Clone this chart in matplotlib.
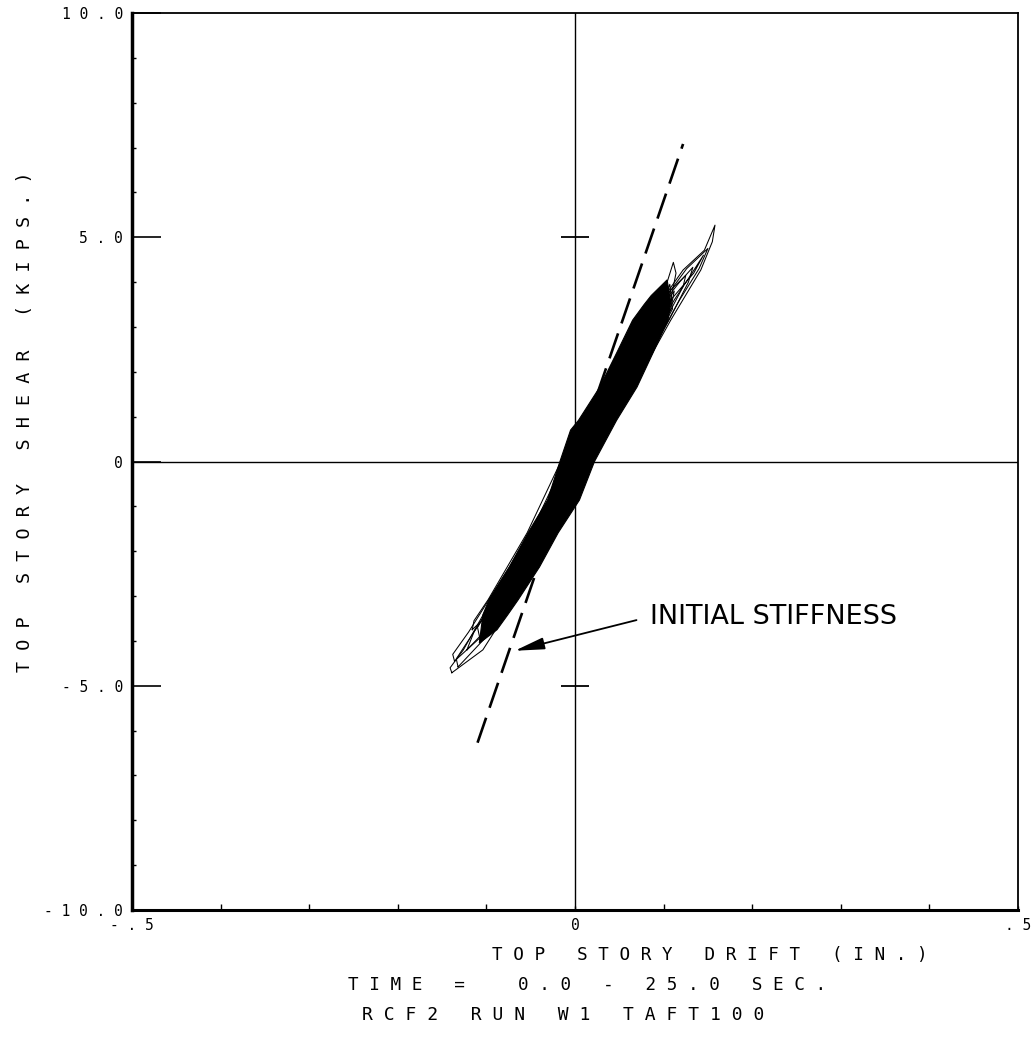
import numpy as np
import matplotlib
matplotlib.use("agg")
import matplotlib.pyplot as plt
from matplotlib.ticker import MultipleLocator

plt.rcParams['font.family'] = ['DejaVu Sans Mono', 'DejaVu Sans']

# 初始勁度線 (drift in., shear kips)
stiff_drift = [-0.110, 0.122]
stiff_shear = [-6.27, 7.08]

# 遲滯迴圈密集區 (外形)
core_drift = [-0.108, -0.104, -0.097, -0.074, -0.053, -0.031, -0.017, -0.005, 0.004, 0.028, 0.047, 0.065, 0.078, 0.086,
              0.104, 0.108, 0.105, 0.088, 0.070, 0.047, 0.022, 0.005, -0.019, -0.040, -0.064, -0.076, -0.088, -0.098]
core_shear = [-4.05, -3.42, -3.08, -2.35, -1.59, -0.86, 0.00, 0.70, 0.92, 1.66, 2.42, 3.15, 3.50, 3.70,
              4.05, 3.55, 3.15, 2.42, 1.66, 0.92, 0.00, -0.86, -1.59, -2.35, -3.08, -3.42, -3.75, -3.90]

# 各個迴圈
loop_a_drift = [-0.139, -0.104, -0.068, -0.022, 0.018, 0.066, 0.108, 0.142, 0.155, 0.158,
                0.146, 0.122, 0.082, 0.038, -0.012, -0.050, -0.094, -0.126, -0.141, -0.139]
loop_a_shear = [-4.71, -4.20, -3.08, -1.59, 0.00, 1.66, 3.15, 4.27, 4.90, 5.27,
                4.71, 4.27, 3.15, 1.66, 0.00, -1.59, -3.08, -4.20, -4.60, -4.71]

loop_b_drift = [-0.107, -0.070, -0.024, 0.016, 0.064, 0.106, 0.128, 0.133,
                0.118, 0.084, 0.040, -0.010, -0.046, -0.092, -0.110, -0.107]
loop_b_shear = [-3.98, -3.08, -1.59, 0.00, 1.66, 3.15, 4.00, 4.33,
                4.00, 3.15, 1.66, 0.00, -1.59, -3.08, -3.70, -3.98]

loop_c_drift = [-0.122, -0.088, -0.048, -0.004, 0.036, 0.080, 0.108, 0.114, 0.111,
                0.104, 0.090, 0.044, -0.008, -0.044, -0.090, -0.114, -0.122]
loop_c_shear = [-4.20, -3.50, -2.35, -0.86, 0.92, 2.42, 3.60, 4.20, 4.44,
                4.00, 3.15, 1.66, 0.00, -1.59, -3.08, -3.80, -4.20]

loop_d_drift = [-0.093, -0.050, -0.006, 0.038, 0.084, 0.110, 0.107,
                0.096, 0.064, 0.016, -0.026, -0.066, -0.090, -0.093]
loop_d_shear = [-3.46, -2.35, -0.86, 0.92, 2.42, 3.40, 3.95,
                3.40, 2.42, 0.92, -0.86, -2.35, -3.20, -3.46]

loop_e_drift = [-0.132, -0.095, -0.046, -0.002, 0.040, 0.085, 0.118, 0.140, 0.150,
                0.126, 0.100, 0.062, 0.012, -0.028, -0.068, -0.114, -0.134, -0.132]
loop_e_shear = [-4.58, -3.80, -2.35, -0.86, 0.92, 2.42, 3.60, 4.30, 4.75,
                4.30, 3.60, 2.42, 0.92, -0.86, -2.35, -3.80, -4.40, -4.58]

loop_f_drift = [-0.073, -0.058, -0.020, 0.014, 0.060, 0.100, 0.102,
                0.088, 0.046, -0.006, -0.044, -0.074, -0.073]
loop_f_shear = [-2.93, -2.70, -1.30, 0.00, 1.66, 3.00, 3.60,
                3.00, 1.66, 0.00, -1.59, -2.60, -2.93]

loop_g_drift = [-0.116, -0.080, -0.030, 0.012, 0.060, 0.102, 0.122, 0.125,
                0.112, 0.076, 0.030, -0.016, -0.054, -0.098, -0.114, -0.116]
loop_g_shear = [-3.75, -3.08, -1.59, 0.00, 1.66, 3.15, 3.90, 4.15,
                3.90, 3.15, 1.66, 0.00, -1.59, -3.08, -3.55, -3.75]

loop_h_drift = [-0.095, -0.052, -0.008, 0.036, 0.078, 0.112, 0.132, 0.145,
                0.134, 0.108, 0.060, 0.010, -0.030, -0.072, -0.094, -0.095]
loop_h_shear = [-3.30, -2.35, -0.86, 0.92, 2.42, 3.60, 4.20, 4.60,
                4.20, 3.60, 2.42, 0.92, -0.86, -2.35, -3.10, -3.30]

loop_i_drift = [-0.136, -0.100, -0.048, -0.004, 0.040, 0.082, 0.108, 0.112,
                0.096, 0.066, 0.016, -0.030, -0.074, -0.120, -0.138, -0.136]
loop_i_shear = [-4.45, -3.80, -2.35, -0.86, 0.92, 2.42, 3.40, 3.80,
                3.40, 2.42, 0.92, -0.86, -2.35, -3.80, -4.30, -4.45]

# 座標軸刻度
x_ticks = [-0.5, 0.0, 0.5]
x_tick_text = ["-.5", "0", ".5"]
y_ticks = [-10, -5, 0, 5, 10]
y_tick_text = ["-10.0", "-5.0", "0", "5.0", "10.0"]
cross_ticks = [-5, 5]

x_title = "TOP STORY DRIFT (IN.)"
y_title = "TOP STORY SHEAR (KIPS.)"
time_line = "TIME =  0.0 - 25.0 SEC."
run_line = "RCF2 RUN W1 TAFT100"
note = "INITIAL STIFFNESS"


def spaced(s):
    # 繪圖機字距
    return " ".join(s)


W, H = 1035, 1038
fig = plt.figure(figsize=(W / 100, H / 100), dpi=100)
ax = fig.add_axes([132 / W, 1 - 910 / H, 886 / W, 897 / H])

ax.fill(core_drift, core_shear, color="black", lw=0.8)
loops = [(loop_a_drift, loop_a_shear), (loop_b_drift, loop_b_shear), (loop_c_drift, loop_c_shear),
         (loop_d_drift, loop_d_shear), (loop_e_drift, loop_e_shear), (loop_f_drift, loop_f_shear),
         (loop_g_drift, loop_g_shear), (loop_h_drift, loop_h_shear), (loop_i_drift, loop_i_shear)]
for d, s in loops:
    ax.plot(d, s, color="black", lw=0.75)

ax.plot(stiff_drift, stiff_shear, color="black", lw=1.9, dashes=(10, 4), dash_capstyle="butt")

# 中心十字線
ax.axhline(0, color="black", lw=1.0)
ax.axvline(0, color="black", lw=1.0)
ax.plot(np.zeros(len(cross_ticks)), cross_ticks, ls="none", marker="_", ms=20, mew=1.3, color="black")

ax.set_xlim(-0.5, 0.5)
ax.set_ylim(-10, 10)

ax.set_xticks(x_ticks)
ax.set_xticklabels([spaced(t) for t in x_tick_text])
ax.xaxis.set_minor_locator(MultipleLocator(0.1))
ax.set_yticks(y_ticks)
ax.set_yticklabels([spaced(t) for t in y_tick_text])
ax.yaxis.set_minor_locator(MultipleLocator(1))

ax.tick_params(axis="y", which="major", direction="in", length=21, width=1.2, pad=6.5, labelsize=10.5)
ax.tick_params(axis="y", which="minor", direction="in", length=3, width=1.0)
ax.tick_params(axis="x", which="major", direction="in", length=3, width=1.0, pad=6, labelsize=10.5)
ax.tick_params(axis="x", which="minor", direction="in", length=4, width=1.0)

ax.spines["left"].set_linewidth(2.5)
ax.spines["bottom"].set_linewidth(2.2)
ax.spines["top"].set_linewidth(1.3)
ax.spines["right"].set_linewidth(1.3)

# 說明箭頭
ax.annotate(note, xy=(-0.068, -4.22), xytext=(0.0847, -3.46), ha="left", va="center",
            fontsize=19.5, family="DejaVu Sans",
            arrowprops=dict(arrowstyle="-|>,head_length=0.9,head_width=0.18", color="black",
                            lw=1.3, mutation_scale=20, relpos=(0, 0.5), shrinkA=8, shrinkB=0))

# 軸標題與說明文字
fig.text(492 / W, 1 - 955 / H, spaced(x_title), ha="left", va="center", fontsize=12.7)
fig.text(348 / W, 1 - 985 / H, spaced(time_line), ha="left", va="center", fontsize=12.7)
fig.text(362 / W, 1 - 1015 / H, spaced(run_line), ha="left", va="center", fontsize=13.0)
fig.text(25 / W, 1 - 422 / H, spaced(y_title), ha="center", va="center", rotation=90, fontsize=13.2)

fig.savefig("out.png", dpi=100)
